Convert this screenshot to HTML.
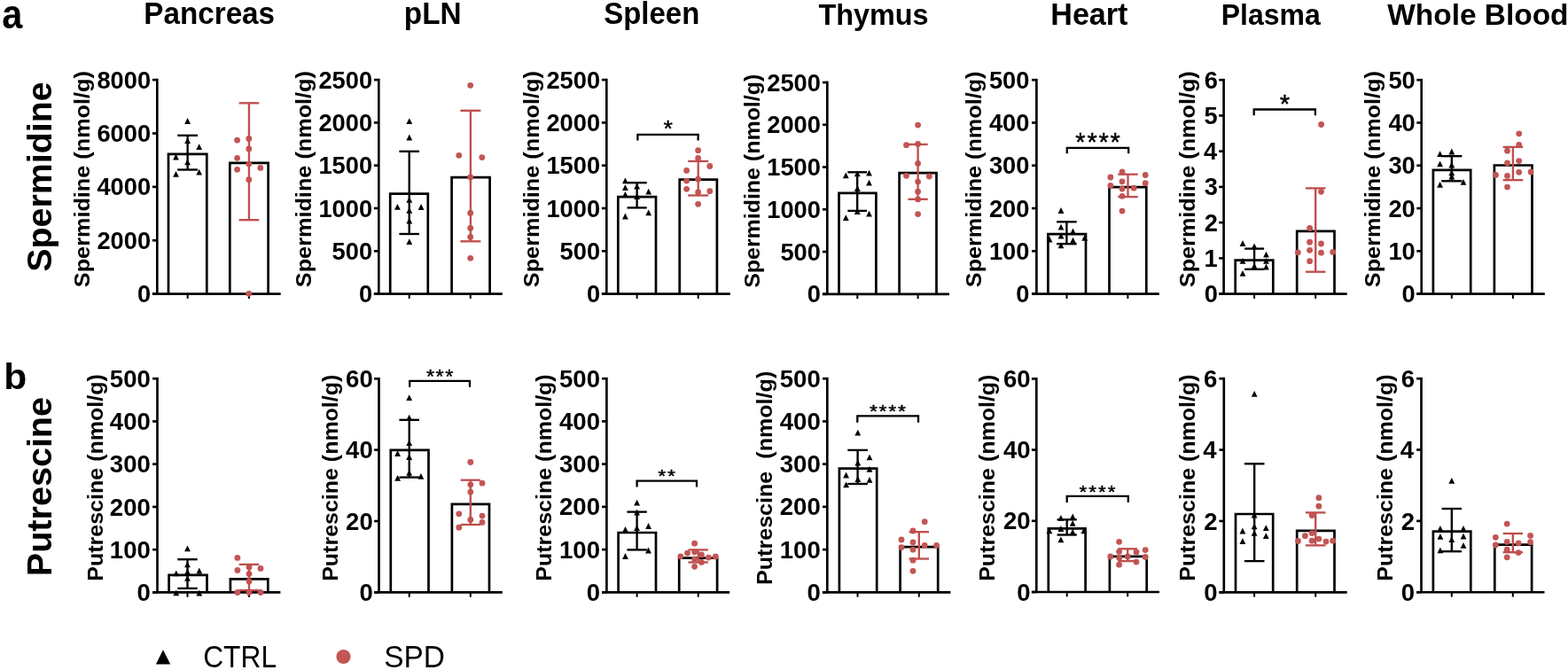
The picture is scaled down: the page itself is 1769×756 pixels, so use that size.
<!DOCTYPE html>
<html><head><meta charset="utf-8"><style>
html,body{margin:0;padding:0;background:#fff;}
svg{display:block;filter:blur(0.3px);}
text{font-family:"Liberation Sans",Arial,sans-serif;white-space:pre;}
</style></head><body>
<svg width="1769" height="756" viewBox="0 0 1769 756">
<rect width="1769" height="756" fill="#fff"/>
<text transform="translate(2.35,32.30) scale(0.9105,1)" font-size="45.58" font-weight="bold" fill="#000">a</text>
<text transform="translate(4.13,439.20) scale(1.0607,1)" font-size="40.14" font-weight="bold" fill="#000">b</text>
<text transform="translate(162.26,27.20) scale(0.9407,1)" font-size="35.35" font-weight="bold" fill="#000">Pancreas</text>
<text transform="translate(455.83,27.30) scale(0.9683,1)" font-size="34.47" font-weight="bold" fill="#000">pLN</text>
<text transform="translate(681.31,27.30) scale(0.9591,1)" font-size="34.34" font-weight="bold" fill="#000">Spleen</text>
<text transform="translate(923.38,27.60) scale(0.9514,1)" font-size="34.07" font-weight="bold" fill="#000">Thymus</text>
<text transform="translate(1185.30,27.60) scale(0.9688,1)" font-size="35.20" font-weight="bold" fill="#000">Heart</text>
<text transform="translate(1377.74,27.60) scale(0.9426,1)" font-size="33.93" font-weight="bold" fill="#000">Plasma</text>
<text transform="translate(1565.22,27.60) scale(0.9817,1)" font-size="34.07" font-weight="bold" fill="#000">Whole Blood</text>
<text transform="translate(57.80,306.78) rotate(-90) scale(1.0167,1)" font-size="38.76" font-weight="bold">Spermidine</text>
<text transform="translate(57.80,650.17) rotate(-90) scale(1.0317,1)" font-size="38.34" font-weight="bold">Putrescine</text>
<path d="M184 733.3L192.2 749.6L175.9 749.6Z" fill="#000"/>
<circle cx="387.5" cy="741" r="8.1" fill="#c25654"/>
<text transform="translate(229.21,752.60) scale(0.9071,1)" font-size="34.98" font-weight="normal" fill="#000">CTRL</text>
<text transform="translate(433.20,752.60) scale(0.9543,1)" font-size="34.98" font-weight="normal" fill="#000">SPD</text>
<line x1="171.90" y1="331.60" x2="177.30" y2="331.60" stroke="#000" stroke-width="2.65" stroke-linecap="butt"/>
<text transform="translate(154.95,341.12) scale(0.9850,1)" font-size="27.70" font-weight="bold">0</text>
<line x1="171.90" y1="271.23" x2="177.30" y2="271.23" stroke="#000" stroke-width="2.65" stroke-linecap="butt"/>
<text transform="translate(109.45,280.75) scale(0.9850,1)" font-size="27.70" font-weight="bold">2000</text>
<line x1="171.90" y1="210.85" x2="177.30" y2="210.85" stroke="#000" stroke-width="2.65" stroke-linecap="butt"/>
<text transform="translate(109.45,220.37) scale(0.9850,1)" font-size="27.70" font-weight="bold">4000</text>
<line x1="171.90" y1="150.47" x2="177.30" y2="150.47" stroke="#000" stroke-width="2.65" stroke-linecap="butt"/>
<text transform="translate(109.45,160.00) scale(0.9850,1)" font-size="27.70" font-weight="bold">6000</text>
<line x1="171.90" y1="90.10" x2="177.30" y2="90.10" stroke="#000" stroke-width="2.65" stroke-linecap="butt"/>
<text transform="translate(109.45,99.62) scale(0.9850,1)" font-size="27.70" font-weight="bold">8000</text>
<line x1="177.30" y1="88.77" x2="177.30" y2="331.60" stroke="#000" stroke-width="2.65" stroke-linecap="butt"/>
<line x1="171.90" y1="331.60" x2="316.70" y2="331.60" stroke="#000" stroke-width="2.65" stroke-linecap="butt"/>
<line x1="211.65" y1="331.60" x2="211.65" y2="336.93" stroke="#000" stroke-width="2.0" stroke-linecap="butt"/>
<line x1="280.95" y1="331.60" x2="280.95" y2="336.93" stroke="#000" stroke-width="2.0" stroke-linecap="butt"/>
<text transform="translate(100.69,324.16) rotate(-90) scale(1.0465,1)" font-size="24.13" font-weight="bold">Spermidine (nmol/g)</text>
<path d="M190.00 331.60V173.80H233.30V331.60" fill="none" stroke="#000" stroke-width="2.7" stroke-linejoin="miter"/>
<path d="M259.30 331.60V183.80H302.60V331.60" fill="none" stroke="#000" stroke-width="2.7" stroke-linejoin="miter"/>
<path d="M211.60 133.10L215.00 139.90L208.20 139.90Z" fill="#000"/>
<path d="M211.60 155.20L215.00 162.00L208.20 162.00Z" fill="#000"/>
<path d="M224.70 162.20L228.10 169.00L221.30 169.00Z" fill="#000"/>
<path d="M198.50 173.60L201.90 180.40L195.10 180.40Z" fill="#000"/>
<path d="M211.60 179.40L215.00 186.20L208.20 186.20Z" fill="#000"/>
<path d="M198.50 192.90L201.90 199.70L195.10 199.70Z" fill="#000"/>
<path d="M224.70 190.80L228.10 197.60L221.30 197.60Z" fill="#000"/>
<circle cx="280.80" cy="156.50" r="3.4" fill="#c25654"/>
<circle cx="267.60" cy="158.20" r="3.4" fill="#c25654"/>
<circle cx="280.80" cy="167.90" r="3.4" fill="#c25654"/>
<circle cx="267.60" cy="178.30" r="3.4" fill="#c25654"/>
<circle cx="280.80" cy="185.10" r="3.4" fill="#c25654"/>
<circle cx="293.80" cy="189.40" r="3.4" fill="#c25654"/>
<circle cx="267.60" cy="191.30" r="3.4" fill="#c25654"/>
<circle cx="280.80" cy="202.70" r="3.4" fill="#c25654"/>
<circle cx="280.80" cy="331.30" r="3.4" fill="#c25654"/>
<line x1="211.65" y1="152.80" x2="211.65" y2="191.50" stroke="#000" stroke-width="2.35" stroke-linecap="butt"/>
<line x1="200.25" y1="152.80" x2="223.05" y2="152.80" stroke="#000" stroke-width="2.35" stroke-linecap="butt"/>
<line x1="200.25" y1="191.50" x2="223.05" y2="191.50" stroke="#000" stroke-width="2.35" stroke-linecap="butt"/>
<line x1="280.95" y1="116.30" x2="280.95" y2="248.20" stroke="#bf4f4e" stroke-width="2.35" stroke-linecap="butt"/>
<line x1="269.65" y1="116.30" x2="292.25" y2="116.30" stroke="#bf4f4e" stroke-width="2.35" stroke-linecap="butt"/>
<line x1="269.65" y1="248.20" x2="292.25" y2="248.20" stroke="#bf4f4e" stroke-width="2.35" stroke-linecap="butt"/>
<line x1="421.90" y1="331.60" x2="427.30" y2="331.60" stroke="#000" stroke-width="2.65" stroke-linecap="butt"/>
<text transform="translate(404.95,341.12) scale(0.9850,1)" font-size="27.70" font-weight="bold">0</text>
<line x1="421.90" y1="283.30" x2="427.30" y2="283.30" stroke="#000" stroke-width="2.65" stroke-linecap="butt"/>
<text transform="translate(374.59,292.82) scale(0.9850,1)" font-size="27.70" font-weight="bold">500</text>
<line x1="421.90" y1="235.00" x2="427.30" y2="235.00" stroke="#000" stroke-width="2.65" stroke-linecap="butt"/>
<text transform="translate(359.45,244.52) scale(0.9850,1)" font-size="27.70" font-weight="bold">1000</text>
<line x1="421.90" y1="186.70" x2="427.30" y2="186.70" stroke="#000" stroke-width="2.65" stroke-linecap="butt"/>
<text transform="translate(359.45,196.22) scale(0.9850,1)" font-size="27.70" font-weight="bold">1500</text>
<line x1="421.90" y1="138.40" x2="427.30" y2="138.40" stroke="#000" stroke-width="2.65" stroke-linecap="butt"/>
<text transform="translate(359.45,147.92) scale(0.9850,1)" font-size="27.70" font-weight="bold">2000</text>
<line x1="421.90" y1="90.10" x2="427.30" y2="90.10" stroke="#000" stroke-width="2.65" stroke-linecap="butt"/>
<text transform="translate(359.45,99.62) scale(0.9850,1)" font-size="27.70" font-weight="bold">2500</text>
<line x1="427.30" y1="88.77" x2="427.30" y2="331.60" stroke="#000" stroke-width="2.65" stroke-linecap="butt"/>
<line x1="421.90" y1="331.60" x2="566.80" y2="331.60" stroke="#000" stroke-width="2.65" stroke-linecap="butt"/>
<line x1="461.70" y1="331.60" x2="461.70" y2="336.93" stroke="#000" stroke-width="2.0" stroke-linecap="butt"/>
<line x1="530.80" y1="331.60" x2="530.80" y2="336.93" stroke="#000" stroke-width="2.0" stroke-linecap="butt"/>
<text transform="translate(350.67,324.16) rotate(-90) scale(1.0419,1)" font-size="24.24" font-weight="bold">Spermidine (nmol/g)</text>
<path d="M440.20 331.60V218.70H482.80V331.60" fill="none" stroke="#000" stroke-width="2.7" stroke-linejoin="miter"/>
<path d="M509.60 331.60V200.20H552.60V331.60" fill="none" stroke="#000" stroke-width="2.7" stroke-linejoin="miter"/>
<path d="M461.80 133.20L465.20 140.00L458.40 140.00Z" fill="#000"/>
<path d="M461.80 151.60L465.20 158.40L458.40 158.40Z" fill="#000"/>
<path d="M461.80 221.90L465.20 228.70L458.40 228.70Z" fill="#000"/>
<path d="M448.40 229.90L451.80 236.70L445.00 236.70Z" fill="#000"/>
<path d="M475.10 230.10L478.50 236.90L471.70 236.90Z" fill="#000"/>
<path d="M461.80 234.00L465.20 240.80L458.40 240.80Z" fill="#000"/>
<path d="M461.80 245.60L465.20 252.40L458.40 252.40Z" fill="#000"/>
<path d="M461.80 269.20L465.20 276.00L458.40 276.00Z" fill="#000"/>
<circle cx="530.70" cy="96.30" r="3.4" fill="#c25654"/>
<circle cx="517.80" cy="175.30" r="3.4" fill="#c25654"/>
<circle cx="543.80" cy="177.60" r="3.4" fill="#c25654"/>
<circle cx="530.70" cy="199.90" r="3.4" fill="#c25654"/>
<circle cx="530.70" cy="240.50" r="3.4" fill="#c25654"/>
<circle cx="530.70" cy="257.40" r="3.4" fill="#c25654"/>
<circle cx="530.70" cy="267.40" r="3.4" fill="#c25654"/>
<circle cx="530.70" cy="291.30" r="3.4" fill="#c25654"/>
<line x1="461.70" y1="170.80" x2="461.70" y2="264.00" stroke="#000" stroke-width="2.35" stroke-linecap="butt"/>
<line x1="450.40" y1="170.80" x2="473.00" y2="170.80" stroke="#000" stroke-width="2.35" stroke-linecap="butt"/>
<line x1="450.40" y1="264.00" x2="473.00" y2="264.00" stroke="#000" stroke-width="2.35" stroke-linecap="butt"/>
<line x1="530.90" y1="124.80" x2="530.90" y2="272.30" stroke="#bf4f4e" stroke-width="2.35" stroke-linecap="butt"/>
<line x1="519.40" y1="124.80" x2="542.40" y2="124.80" stroke="#bf4f4e" stroke-width="2.35" stroke-linecap="butt"/>
<line x1="519.40" y1="272.30" x2="542.40" y2="272.30" stroke="#bf4f4e" stroke-width="2.35" stroke-linecap="butt"/>
<line x1="678.90" y1="331.60" x2="684.30" y2="331.60" stroke="#000" stroke-width="2.65" stroke-linecap="butt"/>
<text transform="translate(661.95,341.12) scale(0.9850,1)" font-size="27.70" font-weight="bold">0</text>
<line x1="678.90" y1="283.30" x2="684.30" y2="283.30" stroke="#000" stroke-width="2.65" stroke-linecap="butt"/>
<text transform="translate(631.59,292.82) scale(0.9850,1)" font-size="27.70" font-weight="bold">500</text>
<line x1="678.90" y1="235.00" x2="684.30" y2="235.00" stroke="#000" stroke-width="2.65" stroke-linecap="butt"/>
<text transform="translate(616.45,244.52) scale(0.9850,1)" font-size="27.70" font-weight="bold">1000</text>
<line x1="678.90" y1="186.70" x2="684.30" y2="186.70" stroke="#000" stroke-width="2.65" stroke-linecap="butt"/>
<text transform="translate(616.45,196.22) scale(0.9850,1)" font-size="27.70" font-weight="bold">1500</text>
<line x1="678.90" y1="138.40" x2="684.30" y2="138.40" stroke="#000" stroke-width="2.65" stroke-linecap="butt"/>
<text transform="translate(616.45,147.92) scale(0.9850,1)" font-size="27.70" font-weight="bold">2000</text>
<line x1="678.90" y1="90.10" x2="684.30" y2="90.10" stroke="#000" stroke-width="2.65" stroke-linecap="butt"/>
<text transform="translate(616.45,99.62) scale(0.9850,1)" font-size="27.70" font-weight="bold">2500</text>
<line x1="684.30" y1="88.77" x2="684.30" y2="331.60" stroke="#000" stroke-width="2.65" stroke-linecap="butt"/>
<line x1="678.90" y1="331.60" x2="823.80" y2="331.60" stroke="#000" stroke-width="2.65" stroke-linecap="butt"/>
<line x1="718.60" y1="331.60" x2="718.60" y2="336.93" stroke="#000" stroke-width="2.0" stroke-linecap="butt"/>
<line x1="787.70" y1="331.60" x2="787.70" y2="336.93" stroke="#000" stroke-width="2.0" stroke-linecap="butt"/>
<text transform="translate(607.69,324.16) rotate(-90) scale(1.0465,1)" font-size="24.13" font-weight="bold">Spermidine (nmol/g)</text>
<path d="M697.30 331.60V222.10H740.00V331.60" fill="none" stroke="#000" stroke-width="2.7" stroke-linejoin="miter"/>
<path d="M766.70 331.60V202.70H808.90V331.60" fill="none" stroke="#000" stroke-width="2.7" stroke-linejoin="miter"/>
<path d="M705.40 200.40L708.80 207.20L702.00 207.20Z" fill="#000"/>
<path d="M705.40 208.30L708.80 215.10L702.00 215.10Z" fill="#000"/>
<path d="M718.60 206.80L722.00 213.60L715.20 213.60Z" fill="#000"/>
<path d="M731.70 212.80L735.10 219.60L728.30 219.60Z" fill="#000"/>
<path d="M705.40 216.00L708.80 222.80L702.00 222.80Z" fill="#000"/>
<path d="M718.60 218.30L722.00 225.10L715.20 225.10Z" fill="#000"/>
<path d="M705.40 240.60L708.80 247.40L702.00 247.40Z" fill="#000"/>
<path d="M731.70 236.40L735.10 243.20L728.30 243.20Z" fill="#000"/>
<circle cx="787.60" cy="169.70" r="3.4" fill="#c25654"/>
<circle cx="787.60" cy="178.40" r="3.4" fill="#c25654"/>
<circle cx="800.80" cy="187.50" r="3.4" fill="#c25654"/>
<circle cx="774.60" cy="192.40" r="3.4" fill="#c25654"/>
<circle cx="774.60" cy="204.10" r="3.4" fill="#c25654"/>
<circle cx="787.60" cy="202.20" r="3.4" fill="#c25654"/>
<circle cx="774.60" cy="213.30" r="3.4" fill="#c25654"/>
<circle cx="800.80" cy="215.70" r="3.4" fill="#c25654"/>
<circle cx="787.60" cy="217.00" r="3.4" fill="#c25654"/>
<circle cx="787.60" cy="230.30" r="3.4" fill="#c25654"/>
<line x1="718.60" y1="206.20" x2="718.60" y2="234.40" stroke="#000" stroke-width="2.35" stroke-linecap="butt"/>
<line x1="707.50" y1="206.20" x2="729.70" y2="206.20" stroke="#000" stroke-width="2.35" stroke-linecap="butt"/>
<line x1="707.50" y1="234.40" x2="729.70" y2="234.40" stroke="#000" stroke-width="2.35" stroke-linecap="butt"/>
<line x1="787.70" y1="181.90" x2="787.70" y2="220.50" stroke="#bf4f4e" stroke-width="2.35" stroke-linecap="butt"/>
<line x1="776.20" y1="181.90" x2="799.20" y2="181.90" stroke="#bf4f4e" stroke-width="2.35" stroke-linecap="butt"/>
<line x1="776.20" y1="220.50" x2="799.20" y2="220.50" stroke="#bf4f4e" stroke-width="2.35" stroke-linecap="butt"/>
<path d="M719.40 158.60V151.90H787.60V158.60" fill="none" stroke="#000" stroke-width="2.3"/>
<text transform="translate(748.43,153.68) scale(1.0293,1)" font-size="26.00" font-weight="normal" fill="#000" stroke="#000" stroke-width="0.4" stroke-linejoin="round">*</text>
<line x1="927.90" y1="331.80" x2="933.30" y2="331.80" stroke="#000" stroke-width="2.65" stroke-linecap="butt"/>
<text transform="translate(910.75,341.32) scale(0.9850,1)" font-size="27.70" font-weight="bold">0</text>
<line x1="927.90" y1="284.04" x2="933.30" y2="284.04" stroke="#000" stroke-width="2.65" stroke-linecap="butt"/>
<text transform="translate(880.39,293.56) scale(0.9850,1)" font-size="27.70" font-weight="bold">500</text>
<line x1="927.90" y1="236.28" x2="933.30" y2="236.28" stroke="#000" stroke-width="2.65" stroke-linecap="butt"/>
<text transform="translate(865.25,245.80) scale(0.9850,1)" font-size="27.70" font-weight="bold">1000</text>
<line x1="927.90" y1="188.52" x2="933.30" y2="188.52" stroke="#000" stroke-width="2.65" stroke-linecap="butt"/>
<text transform="translate(865.25,198.04) scale(0.9850,1)" font-size="27.70" font-weight="bold">1500</text>
<line x1="927.90" y1="140.76" x2="933.30" y2="140.76" stroke="#000" stroke-width="2.65" stroke-linecap="butt"/>
<text transform="translate(865.25,150.28) scale(0.9850,1)" font-size="27.70" font-weight="bold">2000</text>
<line x1="927.90" y1="93.00" x2="933.30" y2="93.00" stroke="#000" stroke-width="2.65" stroke-linecap="butt"/>
<text transform="translate(865.25,102.52) scale(0.9850,1)" font-size="27.70" font-weight="bold">2500</text>
<line x1="933.30" y1="91.67" x2="933.30" y2="331.80" stroke="#000" stroke-width="2.65" stroke-linecap="butt"/>
<line x1="927.90" y1="331.80" x2="1071.00" y2="331.80" stroke="#000" stroke-width="2.65" stroke-linecap="butt"/>
<line x1="967.30" y1="331.80" x2="967.30" y2="337.12" stroke="#000" stroke-width="2.0" stroke-linecap="butt"/>
<line x1="1035.60" y1="331.80" x2="1035.60" y2="337.12" stroke="#000" stroke-width="2.0" stroke-linecap="butt"/>
<text transform="translate(856.99,324.85) rotate(-90) scale(1.0344,1)" font-size="24.13" font-weight="bold">Spermidine (nmol/g)</text>
<path d="M946.50 331.80V217.80H988.40V331.80" fill="none" stroke="#000" stroke-width="2.7" stroke-linejoin="miter"/>
<path d="M1014.60 331.80V195.10H1056.50V331.80" fill="none" stroke="#000" stroke-width="2.7" stroke-linejoin="miter"/>
<path d="M954.30 194.50L957.70 201.30L950.90 201.30Z" fill="#000"/>
<path d="M967.30 192.50L970.70 199.30L963.90 199.30Z" fill="#000"/>
<path d="M980.50 191.70L983.90 198.50L977.10 198.50Z" fill="#000"/>
<path d="M980.50 202.80L983.90 209.60L977.10 209.60Z" fill="#000"/>
<path d="M967.30 209.10L970.70 215.90L963.90 215.90Z" fill="#000"/>
<path d="M954.30 242.20L957.70 249.00L950.90 249.00Z" fill="#000"/>
<path d="M980.50 237.70L983.90 244.50L977.10 244.50Z" fill="#000"/>
<path d="M967.30 235.30L970.70 242.10L963.90 242.10Z" fill="#000"/>
<circle cx="1035.60" cy="141.10" r="3.4" fill="#c25654"/>
<circle cx="1022.50" cy="163.70" r="3.4" fill="#c25654"/>
<circle cx="1035.60" cy="162.50" r="3.4" fill="#c25654"/>
<circle cx="1035.60" cy="184.40" r="3.4" fill="#c25654"/>
<circle cx="1022.50" cy="198.30" r="3.4" fill="#c25654"/>
<circle cx="1048.40" cy="199.00" r="3.4" fill="#c25654"/>
<circle cx="1035.60" cy="205.10" r="3.4" fill="#c25654"/>
<circle cx="1035.60" cy="216.20" r="3.4" fill="#c25654"/>
<circle cx="1035.60" cy="224.90" r="3.4" fill="#c25654"/>
<circle cx="1035.60" cy="241.60" r="3.4" fill="#c25654"/>
<line x1="967.20" y1="194.30" x2="967.20" y2="237.90" stroke="#000" stroke-width="2.35" stroke-linecap="butt"/>
<line x1="956.30" y1="194.30" x2="978.10" y2="194.30" stroke="#000" stroke-width="2.35" stroke-linecap="butt"/>
<line x1="956.30" y1="237.90" x2="978.10" y2="237.90" stroke="#000" stroke-width="2.35" stroke-linecap="butt"/>
<line x1="1035.60" y1="162.90" x2="1035.60" y2="224.80" stroke="#bf4f4e" stroke-width="2.35" stroke-linecap="butt"/>
<line x1="1024.50" y1="162.90" x2="1046.70" y2="162.90" stroke="#bf4f4e" stroke-width="2.35" stroke-linecap="butt"/>
<line x1="1024.50" y1="224.80" x2="1046.70" y2="224.80" stroke="#bf4f4e" stroke-width="2.35" stroke-linecap="butt"/>
<line x1="1164.00" y1="331.60" x2="1169.40" y2="331.60" stroke="#000" stroke-width="2.65" stroke-linecap="butt"/>
<text transform="translate(1146.25,341.12) scale(0.9850,1)" font-size="27.70" font-weight="bold">0</text>
<line x1="1164.00" y1="283.32" x2="1169.40" y2="283.32" stroke="#000" stroke-width="2.65" stroke-linecap="butt"/>
<text transform="translate(1115.89,292.84) scale(0.9850,1)" font-size="27.70" font-weight="bold">100</text>
<line x1="1164.00" y1="235.04" x2="1169.40" y2="235.04" stroke="#000" stroke-width="2.65" stroke-linecap="butt"/>
<text transform="translate(1115.89,244.56) scale(0.9850,1)" font-size="27.70" font-weight="bold">200</text>
<line x1="1164.00" y1="186.76" x2="1169.40" y2="186.76" stroke="#000" stroke-width="2.65" stroke-linecap="butt"/>
<text transform="translate(1115.89,196.25) scale(0.9850,1)" font-size="27.70" font-weight="bold">300</text>
<line x1="1164.00" y1="138.48" x2="1169.40" y2="138.48" stroke="#000" stroke-width="2.65" stroke-linecap="butt"/>
<text transform="translate(1115.89,148.00) scale(0.9850,1)" font-size="27.70" font-weight="bold">400</text>
<line x1="1164.00" y1="90.20" x2="1169.40" y2="90.20" stroke="#000" stroke-width="2.65" stroke-linecap="butt"/>
<text transform="translate(1115.89,99.72) scale(0.9850,1)" font-size="27.70" font-weight="bold">500</text>
<line x1="1169.40" y1="88.88" x2="1169.40" y2="331.60" stroke="#000" stroke-width="2.65" stroke-linecap="butt"/>
<line x1="1164.00" y1="331.60" x2="1307.80" y2="331.60" stroke="#000" stroke-width="2.65" stroke-linecap="butt"/>
<line x1="1203.50" y1="331.60" x2="1203.50" y2="336.93" stroke="#000" stroke-width="2.0" stroke-linecap="butt"/>
<line x1="1272.40" y1="331.60" x2="1272.40" y2="336.93" stroke="#000" stroke-width="2.0" stroke-linecap="butt"/>
<text transform="translate(1107.40,324.16) rotate(-90) scale(1.0266,1)" font-size="24.56" font-weight="bold">Spermidine (nmol/g)</text>
<path d="M1182.40 331.60V264.20H1225.00V331.60" fill="none" stroke="#000" stroke-width="2.7" stroke-linejoin="miter"/>
<path d="M1251.50 331.60V211.10H1293.30V331.60" fill="none" stroke="#000" stroke-width="2.7" stroke-linejoin="miter"/>
<path d="M1197.00 234.10L1200.40 240.90L1193.60 240.90Z" fill="#000"/>
<path d="M1197.00 252.80L1200.40 259.60L1193.60 259.60Z" fill="#000"/>
<path d="M1210.50 257.60L1213.90 264.40L1207.10 264.40Z" fill="#000"/>
<path d="M1197.00 262.60L1200.40 269.40L1193.60 269.40Z" fill="#000"/>
<path d="M1184.00 266.60L1187.40 273.40L1180.60 273.40Z" fill="#000"/>
<path d="M1210.50 267.70L1213.90 274.50L1207.10 274.50Z" fill="#000"/>
<path d="M1223.70 265.00L1227.10 271.80L1220.30 271.80Z" fill="#000"/>
<path d="M1197.00 273.40L1200.40 280.20L1193.60 280.20Z" fill="#000"/>
<circle cx="1266.00" cy="194.00" r="3.4" fill="#c25654"/>
<circle cx="1252.90" cy="200.00" r="3.4" fill="#c25654"/>
<circle cx="1292.20" cy="197.50" r="3.4" fill="#c25654"/>
<circle cx="1266.00" cy="204.80" r="3.4" fill="#c25654"/>
<circle cx="1252.90" cy="209.40" r="3.4" fill="#c25654"/>
<circle cx="1292.20" cy="206.70" r="3.4" fill="#c25654"/>
<circle cx="1266.00" cy="213.00" r="3.4" fill="#c25654"/>
<circle cx="1279.20" cy="212.20" r="3.4" fill="#c25654"/>
<circle cx="1266.00" cy="221.30" r="3.4" fill="#c25654"/>
<circle cx="1266.00" cy="238.10" r="3.4" fill="#c25654"/>
<line x1="1203.40" y1="250.30" x2="1203.40" y2="275.20" stroke="#000" stroke-width="2.35" stroke-linecap="butt"/>
<line x1="1192.10" y1="250.30" x2="1214.70" y2="250.30" stroke="#000" stroke-width="2.35" stroke-linecap="butt"/>
<line x1="1192.10" y1="275.20" x2="1214.70" y2="275.20" stroke="#000" stroke-width="2.35" stroke-linecap="butt"/>
<line x1="1272.50" y1="196.70" x2="1272.50" y2="222.10" stroke="#bf4f4e" stroke-width="2.35" stroke-linecap="butt"/>
<line x1="1261.25" y1="196.70" x2="1283.75" y2="196.70" stroke="#bf4f4e" stroke-width="2.35" stroke-linecap="butt"/>
<line x1="1261.25" y1="222.10" x2="1283.75" y2="222.10" stroke="#bf4f4e" stroke-width="2.35" stroke-linecap="butt"/>
<path d="M1203.80 173.30V166.80H1273.20V173.30" fill="none" stroke="#000" stroke-width="2.3"/>
<text transform="translate(1213.29,170.24) scale(1.0155,1)" font-size="28.57" font-weight="normal" fill="#000" stroke="#000" stroke-width="0.4" stroke-linejoin="round">*</text>
<text transform="translate(1226.39,170.24) scale(1.0155,1)" font-size="28.57" font-weight="normal" fill="#000" stroke="#000" stroke-width="0.4" stroke-linejoin="round">*</text>
<text transform="translate(1239.49,170.24) scale(1.0155,1)" font-size="28.57" font-weight="normal" fill="#000" stroke="#000" stroke-width="0.4" stroke-linejoin="round">*</text>
<text transform="translate(1252.59,170.24) scale(1.0155,1)" font-size="28.57" font-weight="normal" fill="#000" stroke="#000" stroke-width="0.4" stroke-linejoin="round">*</text>
<line x1="1375.20" y1="331.60" x2="1380.60" y2="331.60" stroke="#000" stroke-width="2.65" stroke-linecap="butt"/>
<text transform="translate(1358.85,341.12) scale(0.9850,1)" font-size="27.70" font-weight="bold">0</text>
<line x1="1375.20" y1="291.37" x2="1380.60" y2="291.37" stroke="#000" stroke-width="2.65" stroke-linecap="butt"/>
<text transform="translate(1358.51,300.89) scale(0.9850,1)" font-size="27.70" font-weight="bold">1</text>
<line x1="1375.20" y1="251.13" x2="1380.60" y2="251.13" stroke="#000" stroke-width="2.65" stroke-linecap="butt"/>
<text transform="translate(1358.85,260.79) scale(0.9850,1)" font-size="27.70" font-weight="bold">2</text>
<line x1="1375.20" y1="210.90" x2="1380.60" y2="210.90" stroke="#000" stroke-width="2.65" stroke-linecap="butt"/>
<text transform="translate(1358.71,220.39) scale(0.9850,1)" font-size="27.70" font-weight="bold">3</text>
<line x1="1375.20" y1="170.67" x2="1380.60" y2="170.67" stroke="#000" stroke-width="2.65" stroke-linecap="butt"/>
<text transform="translate(1357.89,180.19) scale(0.9850,1)" font-size="27.70" font-weight="bold">4</text>
<line x1="1375.20" y1="130.43" x2="1380.60" y2="130.43" stroke="#000" stroke-width="2.65" stroke-linecap="butt"/>
<text transform="translate(1358.51,139.82) scale(0.9850,1)" font-size="27.70" font-weight="bold">5</text>
<line x1="1375.20" y1="90.20" x2="1380.60" y2="90.20" stroke="#000" stroke-width="2.65" stroke-linecap="butt"/>
<text transform="translate(1358.71,99.72) scale(0.9850,1)" font-size="27.70" font-weight="bold">6</text>
<line x1="1380.60" y1="88.88" x2="1380.60" y2="331.60" stroke="#000" stroke-width="2.65" stroke-linecap="butt"/>
<line x1="1375.20" y1="331.60" x2="1519.70" y2="331.60" stroke="#000" stroke-width="2.65" stroke-linecap="butt"/>
<line x1="1415.10" y1="331.60" x2="1415.10" y2="336.93" stroke="#000" stroke-width="2.0" stroke-linecap="butt"/>
<line x1="1484.20" y1="331.60" x2="1484.20" y2="336.93" stroke="#000" stroke-width="2.0" stroke-linecap="butt"/>
<text transform="translate(1348.18,324.16) rotate(-90) scale(1.0238,1)" font-size="24.66" font-weight="bold">Spermidine (nmol/g)</text>
<path d="M1393.70 331.60V293.70H1436.30V331.60" fill="none" stroke="#000" stroke-width="2.7" stroke-linejoin="miter"/>
<path d="M1463.20 331.60V260.90H1505.50V331.60" fill="none" stroke="#000" stroke-width="2.7" stroke-linejoin="miter"/>
<path d="M1402.00 271.10L1405.40 277.90L1398.60 277.90Z" fill="#000"/>
<path d="M1415.10 274.40L1418.50 281.20L1411.70 281.20Z" fill="#000"/>
<path d="M1428.50 283.80L1431.90 290.60L1425.10 290.60Z" fill="#000"/>
<path d="M1402.00 290.90L1405.40 297.70L1398.60 297.70Z" fill="#000"/>
<path d="M1428.50 290.90L1431.90 297.70L1425.10 297.70Z" fill="#000"/>
<path d="M1415.10 296.70L1418.50 303.50L1411.70 303.50Z" fill="#000"/>
<path d="M1428.50 297.60L1431.90 304.40L1425.10 304.40Z" fill="#000"/>
<path d="M1402.00 305.00L1405.40 311.80L1398.60 311.80Z" fill="#000"/>
<circle cx="1490.60" cy="140.50" r="3.4" fill="#c25654"/>
<circle cx="1490.50" cy="216.30" r="3.4" fill="#c25654"/>
<circle cx="1477.60" cy="257.50" r="3.4" fill="#c25654"/>
<circle cx="1477.60" cy="273.20" r="3.4" fill="#c25654"/>
<circle cx="1490.50" cy="275.00" r="3.4" fill="#c25654"/>
<circle cx="1464.30" cy="284.80" r="3.4" fill="#c25654"/>
<circle cx="1477.60" cy="282.30" r="3.4" fill="#c25654"/>
<circle cx="1490.50" cy="285.20" r="3.4" fill="#c25654"/>
<circle cx="1503.70" cy="284.40" r="3.4" fill="#c25654"/>
<circle cx="1477.60" cy="294.70" r="3.4" fill="#c25654"/>
<line x1="1415.10" y1="280.60" x2="1415.10" y2="303.80" stroke="#000" stroke-width="2.35" stroke-linecap="butt"/>
<line x1="1404.10" y1="280.60" x2="1426.10" y2="280.60" stroke="#000" stroke-width="2.35" stroke-linecap="butt"/>
<line x1="1404.10" y1="303.80" x2="1426.10" y2="303.80" stroke="#000" stroke-width="2.35" stroke-linecap="butt"/>
<line x1="1484.20" y1="212.40" x2="1484.20" y2="306.70" stroke="#bf4f4e" stroke-width="2.35" stroke-linecap="butt"/>
<line x1="1473.00" y1="212.40" x2="1495.40" y2="212.40" stroke="#bf4f4e" stroke-width="2.35" stroke-linecap="butt"/>
<line x1="1473.00" y1="306.70" x2="1495.40" y2="306.70" stroke="#bf4f4e" stroke-width="2.35" stroke-linecap="butt"/>
<path d="M1414.70 130.20V123.50H1483.90V130.20" fill="none" stroke="#000" stroke-width="2.3"/>
<text transform="translate(1443.69,126.94) scale(1.0254,1)" font-size="28.57" font-weight="normal" fill="#000" stroke="#000" stroke-width="0.4" stroke-linejoin="round">*</text>
<line x1="1598.30" y1="331.60" x2="1603.70" y2="331.60" stroke="#000" stroke-width="2.65" stroke-linecap="butt"/>
<text transform="translate(1581.55,341.12) scale(0.9850,1)" font-size="27.70" font-weight="bold">0</text>
<line x1="1598.30" y1="283.32" x2="1603.70" y2="283.32" stroke="#000" stroke-width="2.65" stroke-linecap="butt"/>
<text transform="translate(1566.41,292.84) scale(0.9850,1)" font-size="27.70" font-weight="bold">10</text>
<line x1="1598.30" y1="235.04" x2="1603.70" y2="235.04" stroke="#000" stroke-width="2.65" stroke-linecap="butt"/>
<text transform="translate(1566.41,244.56) scale(0.9850,1)" font-size="27.70" font-weight="bold">20</text>
<line x1="1598.30" y1="186.76" x2="1603.70" y2="186.76" stroke="#000" stroke-width="2.65" stroke-linecap="butt"/>
<text transform="translate(1566.41,196.25) scale(0.9850,1)" font-size="27.70" font-weight="bold">30</text>
<line x1="1598.30" y1="138.48" x2="1603.70" y2="138.48" stroke="#000" stroke-width="2.65" stroke-linecap="butt"/>
<text transform="translate(1566.41,148.00) scale(0.9850,1)" font-size="27.70" font-weight="bold">40</text>
<line x1="1598.30" y1="90.20" x2="1603.70" y2="90.20" stroke="#000" stroke-width="2.65" stroke-linecap="butt"/>
<text transform="translate(1566.41,99.72) scale(0.9850,1)" font-size="27.70" font-weight="bold">50</text>
<line x1="1603.70" y1="88.88" x2="1603.70" y2="331.60" stroke="#000" stroke-width="2.65" stroke-linecap="butt"/>
<line x1="1598.30" y1="331.60" x2="1742.80" y2="331.60" stroke="#000" stroke-width="2.65" stroke-linecap="butt"/>
<line x1="1637.80" y1="331.60" x2="1637.80" y2="336.93" stroke="#000" stroke-width="2.0" stroke-linecap="butt"/>
<line x1="1706.90" y1="331.60" x2="1706.90" y2="336.93" stroke="#000" stroke-width="2.0" stroke-linecap="butt"/>
<text transform="translate(1556.63,324.16) rotate(-90) scale(1.0328,1)" font-size="24.45" font-weight="bold">Spermidine (nmol/g)</text>
<path d="M1616.90 331.60V191.80H1659.20V331.60" fill="none" stroke="#000" stroke-width="2.7" stroke-linejoin="miter"/>
<path d="M1685.90 331.60V186.50H1728.50V331.60" fill="none" stroke="#000" stroke-width="2.7" stroke-linejoin="miter"/>
<path d="M1624.60 170.30L1628.00 177.10L1621.20 177.10Z" fill="#000"/>
<path d="M1637.80 167.60L1641.20 174.40L1634.40 174.40Z" fill="#000"/>
<path d="M1624.60 181.50L1628.00 188.30L1621.20 188.30Z" fill="#000"/>
<path d="M1637.80 182.60L1641.20 189.40L1634.40 189.40Z" fill="#000"/>
<path d="M1637.80 191.40L1641.20 198.20L1634.40 198.20Z" fill="#000"/>
<path d="M1624.60 204.90L1628.00 211.70L1621.20 211.70Z" fill="#000"/>
<path d="M1651.00 202.00L1654.40 208.80L1647.60 208.80Z" fill="#000"/>
<path d="M1637.80 195.60L1641.20 202.40L1634.40 202.40Z" fill="#000"/>
<circle cx="1713.70" cy="150.80" r="3.4" fill="#c25654"/>
<circle cx="1713.70" cy="163.50" r="3.4" fill="#c25654"/>
<circle cx="1700.50" cy="170.20" r="3.4" fill="#c25654"/>
<circle cx="1700.50" cy="184.00" r="3.4" fill="#c25654"/>
<circle cx="1713.70" cy="181.60" r="3.4" fill="#c25654"/>
<circle cx="1713.70" cy="194.30" r="3.4" fill="#c25654"/>
<circle cx="1687.50" cy="197.50" r="3.4" fill="#c25654"/>
<circle cx="1727.10" cy="194.00" r="3.4" fill="#c25654"/>
<circle cx="1700.50" cy="198.40" r="3.4" fill="#c25654"/>
<circle cx="1700.50" cy="211.10" r="3.4" fill="#c25654"/>
<line x1="1637.80" y1="176.20" x2="1637.80" y2="204.30" stroke="#000" stroke-width="2.35" stroke-linecap="butt"/>
<line x1="1626.20" y1="176.20" x2="1649.40" y2="176.20" stroke="#000" stroke-width="2.35" stroke-linecap="butt"/>
<line x1="1626.20" y1="204.30" x2="1649.40" y2="204.30" stroke="#000" stroke-width="2.35" stroke-linecap="butt"/>
<line x1="1706.90" y1="165.90" x2="1706.90" y2="203.20" stroke="#bf4f4e" stroke-width="2.35" stroke-linecap="butt"/>
<line x1="1695.60" y1="165.90" x2="1718.20" y2="165.90" stroke="#bf4f4e" stroke-width="2.35" stroke-linecap="butt"/>
<line x1="1695.60" y1="203.20" x2="1718.20" y2="203.20" stroke="#bf4f4e" stroke-width="2.35" stroke-linecap="butt"/>
<line x1="172.10" y1="668.40" x2="177.50" y2="668.40" stroke="#000" stroke-width="2.65" stroke-linecap="butt"/>
<text transform="translate(154.50,678.02) scale(0.9850,1)" font-size="28.00" font-weight="bold">0</text>
<line x1="172.10" y1="620.16" x2="177.50" y2="620.16" stroke="#000" stroke-width="2.65" stroke-linecap="butt"/>
<text transform="translate(123.81,629.78) scale(0.9850,1)" font-size="28.00" font-weight="bold">100</text>
<line x1="172.10" y1="571.92" x2="177.50" y2="571.92" stroke="#000" stroke-width="2.65" stroke-linecap="butt"/>
<text transform="translate(123.81,581.54) scale(0.9850,1)" font-size="28.00" font-weight="bold">200</text>
<line x1="172.10" y1="523.68" x2="177.50" y2="523.68" stroke="#000" stroke-width="2.65" stroke-linecap="butt"/>
<text transform="translate(123.81,533.27) scale(0.9850,1)" font-size="28.00" font-weight="bold">300</text>
<line x1="172.10" y1="475.44" x2="177.50" y2="475.44" stroke="#000" stroke-width="2.65" stroke-linecap="butt"/>
<text transform="translate(123.81,485.06) scale(0.9850,1)" font-size="28.00" font-weight="bold">400</text>
<line x1="172.10" y1="427.20" x2="177.50" y2="427.20" stroke="#000" stroke-width="2.65" stroke-linecap="butt"/>
<text transform="translate(123.81,436.82) scale(0.9850,1)" font-size="28.00" font-weight="bold">500</text>
<line x1="177.50" y1="425.88" x2="177.50" y2="668.40" stroke="#000" stroke-width="2.65" stroke-linecap="butt"/>
<line x1="172.10" y1="668.40" x2="316.40" y2="668.40" stroke="#000" stroke-width="2.65" stroke-linecap="butt"/>
<line x1="211.50" y1="668.40" x2="211.50" y2="673.73" stroke="#000" stroke-width="2.0" stroke-linecap="butt"/>
<line x1="281.00" y1="668.40" x2="281.00" y2="673.73" stroke="#000" stroke-width="2.0" stroke-linecap="butt"/>
<text transform="translate(115.69,655.79) rotate(-90) scale(1.0382,1)" font-size="24.13" font-weight="bold">Putrescine (nmol/g)</text>
<path d="M190.60 668.40V648.90H233.50V668.40" fill="none" stroke="#000" stroke-width="2.7" stroke-linejoin="miter"/>
<path d="M259.90 668.40V653.30H302.30V668.40" fill="none" stroke="#000" stroke-width="2.7" stroke-linejoin="miter"/>
<path d="M211.50 615.40L214.90 622.20L208.10 622.20Z" fill="#000"/>
<path d="M211.50 633.50L214.90 640.30L208.10 640.30Z" fill="#000"/>
<path d="M198.80 643.40L202.20 650.20L195.40 650.20Z" fill="#000"/>
<path d="M224.80 640.60L228.20 647.40L221.40 647.40Z" fill="#000"/>
<path d="M211.50 641.80L214.90 648.60L208.10 648.60Z" fill="#000"/>
<path d="M211.50 649.00L214.90 655.80L208.10 655.80Z" fill="#000"/>
<path d="M198.80 665.40L202.20 672.20L195.40 672.20Z" fill="#000"/>
<path d="M224.80 665.60L228.20 672.40L221.40 672.40Z" fill="#000"/>
<circle cx="267.90" cy="629.40" r="3.4" fill="#c25654"/>
<circle cx="267.90" cy="643.50" r="3.4" fill="#c25654"/>
<circle cx="281.00" cy="639.90" r="3.4" fill="#c25654"/>
<circle cx="294.00" cy="641.40" r="3.4" fill="#c25654"/>
<circle cx="281.00" cy="647.60" r="3.4" fill="#c25654"/>
<circle cx="281.00" cy="656.00" r="3.4" fill="#c25654"/>
<circle cx="267.90" cy="668.50" r="3.4" fill="#c25654"/>
<circle cx="281.00" cy="668.50" r="3.4" fill="#c25654"/>
<circle cx="294.00" cy="668.50" r="3.4" fill="#c25654"/>
<line x1="211.50" y1="631.20" x2="211.50" y2="663.90" stroke="#000" stroke-width="2.35" stroke-linecap="butt"/>
<line x1="200.30" y1="631.20" x2="222.70" y2="631.20" stroke="#000" stroke-width="2.35" stroke-linecap="butt"/>
<line x1="200.30" y1="663.90" x2="222.70" y2="663.90" stroke="#000" stroke-width="2.35" stroke-linecap="butt"/>
<line x1="281.00" y1="636.90" x2="281.00" y2="666.00" stroke="#bf4f4e" stroke-width="2.35" stroke-linecap="butt"/>
<line x1="269.70" y1="636.90" x2="292.30" y2="636.90" stroke="#bf4f4e" stroke-width="2.35" stroke-linecap="butt"/>
<line x1="269.70" y1="666.00" x2="292.30" y2="666.00" stroke="#bf4f4e" stroke-width="2.35" stroke-linecap="butt"/>
<line x1="422.10" y1="668.40" x2="427.50" y2="668.40" stroke="#000" stroke-width="2.65" stroke-linecap="butt"/>
<text transform="translate(405.40,678.02) scale(0.9850,1)" font-size="28.00" font-weight="bold">0</text>
<line x1="422.10" y1="588.03" x2="427.50" y2="588.03" stroke="#000" stroke-width="2.65" stroke-linecap="butt"/>
<text transform="translate(390.09,597.66) scale(0.9850,1)" font-size="28.00" font-weight="bold">20</text>
<line x1="422.10" y1="507.67" x2="427.50" y2="507.67" stroke="#000" stroke-width="2.65" stroke-linecap="butt"/>
<text transform="translate(390.09,517.29) scale(0.9850,1)" font-size="28.00" font-weight="bold">40</text>
<line x1="422.10" y1="427.30" x2="427.50" y2="427.30" stroke="#000" stroke-width="2.65" stroke-linecap="butt"/>
<text transform="translate(390.09,436.92) scale(0.9850,1)" font-size="28.00" font-weight="bold">60</text>
<line x1="427.50" y1="425.98" x2="427.50" y2="668.40" stroke="#000" stroke-width="2.65" stroke-linecap="butt"/>
<line x1="422.10" y1="668.40" x2="566.80" y2="668.40" stroke="#000" stroke-width="2.65" stroke-linecap="butt"/>
<line x1="461.70" y1="668.40" x2="461.70" y2="673.73" stroke="#000" stroke-width="2.0" stroke-linecap="butt"/>
<line x1="530.80" y1="668.40" x2="530.80" y2="673.73" stroke="#000" stroke-width="2.0" stroke-linecap="butt"/>
<text transform="translate(380.63,655.79) rotate(-90) scale(1.0219,1)" font-size="24.45" font-weight="bold">Putrescine (nmol/g)</text>
<path d="M440.80 668.40V507.80H483.50V668.40" fill="none" stroke="#000" stroke-width="2.7" stroke-linejoin="miter"/>
<path d="M509.90 668.40V568.80H552.00V668.40" fill="none" stroke="#000" stroke-width="2.7" stroke-linejoin="miter"/>
<path d="M461.70 445.20L465.10 452.00L458.30 452.00Z" fill="#000"/>
<path d="M461.70 467.70L465.10 474.50L458.30 474.50Z" fill="#000"/>
<path d="M461.70 496.30L465.10 503.10L458.30 503.10Z" fill="#000"/>
<path d="M448.60 508.10L452.00 514.90L445.20 514.90Z" fill="#000"/>
<path d="M461.70 512.10L465.10 518.90L458.30 518.90Z" fill="#000"/>
<path d="M461.70 529.90L465.10 536.70L458.30 536.70Z" fill="#000"/>
<path d="M448.60 536.00L452.00 542.80L445.20 542.80Z" fill="#000"/>
<path d="M474.90 533.90L478.30 540.70L471.50 540.70Z" fill="#000"/>
<circle cx="530.80" cy="521.50" r="3.4" fill="#c25654"/>
<circle cx="530.80" cy="546.80" r="3.4" fill="#c25654"/>
<circle cx="544.00" cy="545.20" r="3.4" fill="#c25654"/>
<circle cx="530.80" cy="555.10" r="3.4" fill="#c25654"/>
<circle cx="517.80" cy="579.80" r="3.4" fill="#c25654"/>
<circle cx="544.00" cy="582.10" r="3.4" fill="#c25654"/>
<circle cx="530.80" cy="586.50" r="3.4" fill="#c25654"/>
<circle cx="544.00" cy="589.40" r="3.4" fill="#c25654"/>
<circle cx="517.80" cy="595.20" r="3.4" fill="#c25654"/>
<line x1="461.70" y1="473.80" x2="461.70" y2="538.60" stroke="#000" stroke-width="2.35" stroke-linecap="butt"/>
<line x1="450.40" y1="473.80" x2="473.00" y2="473.80" stroke="#000" stroke-width="2.35" stroke-linecap="butt"/>
<line x1="450.40" y1="538.60" x2="473.00" y2="538.60" stroke="#000" stroke-width="2.35" stroke-linecap="butt"/>
<line x1="530.80" y1="541.70" x2="530.80" y2="592.00" stroke="#bf4f4e" stroke-width="2.35" stroke-linecap="butt"/>
<line x1="519.70" y1="541.70" x2="541.90" y2="541.70" stroke="#bf4f4e" stroke-width="2.35" stroke-linecap="butt"/>
<line x1="519.70" y1="592.00" x2="541.90" y2="592.00" stroke="#bf4f4e" stroke-width="2.35" stroke-linecap="butt"/>
<path d="M462.20 436.70V429.80H530.00V436.70" fill="none" stroke="#000" stroke-width="2.3"/>
<text transform="translate(480.89,431.53) scale(1.0897,1)" font-size="21.71" font-weight="normal" fill="#000" stroke="#000" stroke-width="0.4" stroke-linejoin="round">*</text>
<text transform="translate(491.59,431.53) scale(1.0897,1)" font-size="21.71" font-weight="normal" fill="#000" stroke="#000" stroke-width="0.4" stroke-linejoin="round">*</text>
<text transform="translate(502.29,431.53) scale(1.0897,1)" font-size="21.71" font-weight="normal" fill="#000" stroke="#000" stroke-width="0.4" stroke-linejoin="round">*</text>
<line x1="679.00" y1="668.30" x2="684.40" y2="668.30" stroke="#000" stroke-width="2.65" stroke-linecap="butt"/>
<text transform="translate(661.70,677.92) scale(0.9850,1)" font-size="28.00" font-weight="bold">0</text>
<line x1="679.00" y1="620.08" x2="684.40" y2="620.08" stroke="#000" stroke-width="2.65" stroke-linecap="butt"/>
<text transform="translate(631.01,629.70) scale(0.9850,1)" font-size="28.00" font-weight="bold">100</text>
<line x1="679.00" y1="571.86" x2="684.40" y2="571.86" stroke="#000" stroke-width="2.65" stroke-linecap="butt"/>
<text transform="translate(631.01,581.49) scale(0.9850,1)" font-size="28.00" font-weight="bold">200</text>
<line x1="679.00" y1="523.64" x2="684.40" y2="523.64" stroke="#000" stroke-width="2.65" stroke-linecap="butt"/>
<text transform="translate(631.01,533.23) scale(0.9850,1)" font-size="28.00" font-weight="bold">300</text>
<line x1="679.00" y1="475.42" x2="684.40" y2="475.42" stroke="#000" stroke-width="2.65" stroke-linecap="butt"/>
<text transform="translate(631.01,485.04) scale(0.9850,1)" font-size="28.00" font-weight="bold">400</text>
<line x1="679.00" y1="427.20" x2="684.40" y2="427.20" stroke="#000" stroke-width="2.65" stroke-linecap="butt"/>
<text transform="translate(631.01,436.82) scale(0.9850,1)" font-size="28.00" font-weight="bold">500</text>
<line x1="684.40" y1="425.88" x2="684.40" y2="668.30" stroke="#000" stroke-width="2.65" stroke-linecap="butt"/>
<line x1="679.00" y1="668.30" x2="823.20" y2="668.30" stroke="#000" stroke-width="2.65" stroke-linecap="butt"/>
<line x1="718.60" y1="668.30" x2="718.60" y2="673.62" stroke="#000" stroke-width="2.0" stroke-linecap="butt"/>
<line x1="787.70" y1="668.30" x2="787.70" y2="673.62" stroke="#000" stroke-width="2.0" stroke-linecap="butt"/>
<text transform="translate(621.97,655.79) rotate(-90) scale(1.0323,1)" font-size="24.24" font-weight="bold">Putrescine (nmol/g)</text>
<path d="M697.60 668.30V601.00H740.00V668.30" fill="none" stroke="#000" stroke-width="2.7" stroke-linejoin="miter"/>
<path d="M766.20 668.30V629.70H809.10V668.30" fill="none" stroke="#000" stroke-width="2.7" stroke-linejoin="miter"/>
<path d="M718.60 563.70L722.00 570.50L715.20 570.50Z" fill="#000"/>
<path d="M718.60 574.60L722.00 581.40L715.20 581.40Z" fill="#000"/>
<path d="M705.50 594.00L708.90 600.80L702.10 600.80Z" fill="#000"/>
<path d="M718.50 592.20L721.90 599.00L715.10 599.00Z" fill="#000"/>
<path d="M731.60 590.10L735.00 596.90L728.20 596.90Z" fill="#000"/>
<path d="M731.50 617.60L734.90 624.40L728.10 624.40Z" fill="#000"/>
<path d="M705.50 624.10L708.90 630.90L702.10 630.90Z" fill="#000"/>
<circle cx="783.60" cy="613.20" r="3.4" fill="#c25654"/>
<circle cx="775.50" cy="624.10" r="3.4" fill="#c25654"/>
<circle cx="783.60" cy="622.80" r="3.4" fill="#c25654"/>
<circle cx="791.40" cy="625.90" r="3.4" fill="#c25654"/>
<circle cx="767.80" cy="627.80" r="3.4" fill="#c25654"/>
<circle cx="799.30" cy="629.10" r="3.4" fill="#c25654"/>
<circle cx="807.30" cy="628.00" r="3.4" fill="#c25654"/>
<circle cx="783.60" cy="631.00" r="3.4" fill="#c25654"/>
<circle cx="791.40" cy="634.40" r="3.4" fill="#c25654"/>
<circle cx="783.60" cy="639.30" r="3.4" fill="#c25654"/>
<line x1="718.60" y1="577.60" x2="718.60" y2="620.40" stroke="#000" stroke-width="2.35" stroke-linecap="butt"/>
<line x1="707.40" y1="577.60" x2="729.80" y2="577.60" stroke="#000" stroke-width="2.35" stroke-linecap="butt"/>
<line x1="707.40" y1="620.40" x2="729.80" y2="620.40" stroke="#000" stroke-width="2.35" stroke-linecap="butt"/>
<line x1="787.70" y1="620.40" x2="787.70" y2="634.50" stroke="#bf4f4e" stroke-width="2.35" stroke-linecap="butt"/>
<line x1="776.50" y1="620.40" x2="798.90" y2="620.40" stroke="#bf4f4e" stroke-width="2.35" stroke-linecap="butt"/>
<line x1="776.50" y1="634.50" x2="798.90" y2="634.50" stroke="#bf4f4e" stroke-width="2.35" stroke-linecap="butt"/>
<path d="M718.60 549.40V542.70H786.00V549.40" fill="none" stroke="#000" stroke-width="2.3"/>
<text transform="translate(742.20,544.34) scale(1.0925,1)" font-size="21.14" font-weight="normal" fill="#000" stroke="#000" stroke-width="0.4" stroke-linejoin="round">*</text>
<text transform="translate(752.90,544.34) scale(1.0925,1)" font-size="21.14" font-weight="normal" fill="#000" stroke="#000" stroke-width="0.4" stroke-linejoin="round">*</text>
<line x1="927.90" y1="668.30" x2="933.30" y2="668.30" stroke="#000" stroke-width="2.65" stroke-linecap="butt"/>
<text transform="translate(910.40,677.92) scale(0.9850,1)" font-size="28.00" font-weight="bold">0</text>
<line x1="927.90" y1="620.08" x2="933.30" y2="620.08" stroke="#000" stroke-width="2.65" stroke-linecap="butt"/>
<text transform="translate(879.71,629.70) scale(0.9850,1)" font-size="28.00" font-weight="bold">100</text>
<line x1="927.90" y1="571.86" x2="933.30" y2="571.86" stroke="#000" stroke-width="2.65" stroke-linecap="butt"/>
<text transform="translate(879.71,581.49) scale(0.9850,1)" font-size="28.00" font-weight="bold">200</text>
<line x1="927.90" y1="523.64" x2="933.30" y2="523.64" stroke="#000" stroke-width="2.65" stroke-linecap="butt"/>
<text transform="translate(879.71,533.23) scale(0.9850,1)" font-size="28.00" font-weight="bold">300</text>
<line x1="927.90" y1="475.42" x2="933.30" y2="475.42" stroke="#000" stroke-width="2.65" stroke-linecap="butt"/>
<text transform="translate(879.71,485.04) scale(0.9850,1)" font-size="28.00" font-weight="bold">400</text>
<line x1="927.90" y1="427.20" x2="933.30" y2="427.20" stroke="#000" stroke-width="2.65" stroke-linecap="butt"/>
<text transform="translate(879.71,436.82) scale(0.9850,1)" font-size="28.00" font-weight="bold">500</text>
<line x1="933.30" y1="425.88" x2="933.30" y2="668.30" stroke="#000" stroke-width="2.65" stroke-linecap="butt"/>
<line x1="927.90" y1="668.30" x2="1072.40" y2="668.30" stroke="#000" stroke-width="2.65" stroke-linecap="butt"/>
<line x1="967.50" y1="668.30" x2="967.50" y2="673.62" stroke="#000" stroke-width="2.0" stroke-linecap="butt"/>
<line x1="1036.80" y1="668.30" x2="1036.80" y2="673.62" stroke="#000" stroke-width="2.0" stroke-linecap="butt"/>
<text transform="translate(871.13,660.00) rotate(-90) scale(1.0273,1)" font-size="24.45" font-weight="bold">Putrescine  (nmol/g)</text>
<path d="M946.90 668.30V528.60H989.20V668.30" fill="none" stroke="#000" stroke-width="2.7" stroke-linejoin="miter"/>
<path d="M1015.60 668.30V617.20H1058.20V668.30" fill="none" stroke="#000" stroke-width="2.7" stroke-linejoin="miter"/>
<path d="M967.80 484.70L971.20 491.50L964.40 491.50Z" fill="#000"/>
<path d="M981.00 512.50L984.40 519.30L977.60 519.30Z" fill="#000"/>
<path d="M967.80 518.80L971.20 525.60L964.40 525.60Z" fill="#000"/>
<path d="M981.00 526.00L984.40 532.80L977.60 532.80Z" fill="#000"/>
<path d="M954.60 532.60L958.00 539.40L951.20 539.40Z" fill="#000"/>
<path d="M967.80 537.10L971.20 543.90L964.40 543.90Z" fill="#000"/>
<path d="M981.00 537.90L984.40 544.70L977.60 544.70Z" fill="#000"/>
<path d="M954.60 543.40L958.00 550.20L951.20 550.20Z" fill="#000"/>
<circle cx="1043.20" cy="588.70" r="3.4" fill="#c25654"/>
<circle cx="1030.00" cy="599.00" r="3.4" fill="#c25654"/>
<circle cx="1017.00" cy="609.00" r="3.4" fill="#c25654"/>
<circle cx="1030.00" cy="611.90" r="3.4" fill="#c25654"/>
<circle cx="1043.20" cy="615.40" r="3.4" fill="#c25654"/>
<circle cx="1056.60" cy="615.40" r="3.4" fill="#c25654"/>
<circle cx="1017.00" cy="617.60" r="3.4" fill="#c25654"/>
<circle cx="1030.00" cy="620.20" r="3.4" fill="#c25654"/>
<circle cx="1030.00" cy="632.20" r="3.4" fill="#c25654"/>
<circle cx="1030.00" cy="644.30" r="3.4" fill="#c25654"/>
<line x1="967.60" y1="507.90" x2="967.60" y2="546.00" stroke="#000" stroke-width="2.35" stroke-linecap="butt"/>
<line x1="956.30" y1="507.90" x2="978.90" y2="507.90" stroke="#000" stroke-width="2.35" stroke-linecap="butt"/>
<line x1="956.30" y1="546.00" x2="978.90" y2="546.00" stroke="#000" stroke-width="2.35" stroke-linecap="butt"/>
<line x1="1036.80" y1="600.20" x2="1036.80" y2="630.50" stroke="#bf4f4e" stroke-width="2.35" stroke-linecap="butt"/>
<line x1="1025.60" y1="600.20" x2="1048.00" y2="600.20" stroke="#bf4f4e" stroke-width="2.35" stroke-linecap="butt"/>
<line x1="1025.60" y1="630.50" x2="1048.00" y2="630.50" stroke="#bf4f4e" stroke-width="2.35" stroke-linecap="butt"/>
<path d="M967.30 476.70V469.40H1036.00V476.70" fill="none" stroke="#000" stroke-width="2.3"/>
<text transform="translate(980.90,470.84) scale(1.0925,1)" font-size="21.14" font-weight="normal" fill="#000" stroke="#000" stroke-width="0.4" stroke-linejoin="round">*</text>
<text transform="translate(991.60,470.84) scale(1.0925,1)" font-size="21.14" font-weight="normal" fill="#000" stroke="#000" stroke-width="0.4" stroke-linejoin="round">*</text>
<text transform="translate(1002.30,470.84) scale(1.0925,1)" font-size="21.14" font-weight="normal" fill="#000" stroke="#000" stroke-width="0.4" stroke-linejoin="round">*</text>
<text transform="translate(1013.00,470.84) scale(1.0925,1)" font-size="21.14" font-weight="normal" fill="#000" stroke="#000" stroke-width="0.4" stroke-linejoin="round">*</text>
<line x1="1163.90" y1="668.00" x2="1169.30" y2="668.00" stroke="#000" stroke-width="2.65" stroke-linecap="butt"/>
<text transform="translate(1147.20,677.62) scale(0.9850,1)" font-size="28.00" font-weight="bold">0</text>
<line x1="1163.90" y1="587.80" x2="1169.30" y2="587.80" stroke="#000" stroke-width="2.65" stroke-linecap="butt"/>
<text transform="translate(1131.89,597.42) scale(0.9850,1)" font-size="28.00" font-weight="bold">20</text>
<line x1="1163.90" y1="507.60" x2="1169.30" y2="507.60" stroke="#000" stroke-width="2.65" stroke-linecap="butt"/>
<text transform="translate(1131.89,517.23) scale(0.9850,1)" font-size="28.00" font-weight="bold">40</text>
<line x1="1163.90" y1="427.40" x2="1169.30" y2="427.40" stroke="#000" stroke-width="2.65" stroke-linecap="butt"/>
<text transform="translate(1131.89,437.02) scale(0.9850,1)" font-size="28.00" font-weight="bold">60</text>
<line x1="1169.30" y1="426.07" x2="1169.30" y2="668.00" stroke="#000" stroke-width="2.65" stroke-linecap="butt"/>
<line x1="1163.90" y1="668.00" x2="1308.00" y2="668.00" stroke="#000" stroke-width="2.65" stroke-linecap="butt"/>
<line x1="1203.70" y1="668.00" x2="1203.70" y2="673.33" stroke="#000" stroke-width="2.0" stroke-linecap="butt"/>
<line x1="1272.20" y1="668.00" x2="1272.20" y2="673.33" stroke="#000" stroke-width="2.0" stroke-linecap="butt"/>
<text transform="translate(1122.17,655.79) rotate(-90) scale(1.0309,1)" font-size="24.24" font-weight="bold">Putrescine (nmol/g)</text>
<path d="M1182.80 668.00V596.30H1224.60V668.00" fill="none" stroke="#000" stroke-width="2.7" stroke-linejoin="miter"/>
<path d="M1251.90 668.00V627.80H1293.70V668.00" fill="none" stroke="#000" stroke-width="2.7" stroke-linejoin="miter"/>
<path d="M1196.90 581.00L1200.30 587.80L1193.50 587.80Z" fill="#000"/>
<path d="M1210.20 579.60L1213.60 586.40L1206.80 586.40Z" fill="#000"/>
<path d="M1210.20 587.00L1213.60 593.80L1206.80 593.80Z" fill="#000"/>
<path d="M1196.90 593.10L1200.30 599.90L1193.50 599.90Z" fill="#000"/>
<path d="M1183.90 595.50L1187.30 602.30L1180.50 602.30Z" fill="#000"/>
<path d="M1210.20 596.80L1213.60 603.60L1206.80 603.60Z" fill="#000"/>
<path d="M1222.80 595.50L1226.20 602.30L1219.40 602.30Z" fill="#000"/>
<path d="M1196.90 605.50L1200.30 612.30L1193.50 612.30Z" fill="#000"/>
<circle cx="1262.60" cy="611.30" r="3.4" fill="#c25654"/>
<circle cx="1262.60" cy="622.40" r="3.4" fill="#c25654"/>
<circle cx="1282.00" cy="623.00" r="3.4" fill="#c25654"/>
<circle cx="1292.20" cy="620.60" r="3.4" fill="#c25654"/>
<circle cx="1252.80" cy="628.00" r="3.4" fill="#c25654"/>
<circle cx="1262.60" cy="629.40" r="3.4" fill="#c25654"/>
<circle cx="1272.20" cy="628.00" r="3.4" fill="#c25654"/>
<circle cx="1292.20" cy="628.50" r="3.4" fill="#c25654"/>
<circle cx="1282.00" cy="634.10" r="3.4" fill="#c25654"/>
<circle cx="1262.60" cy="637.20" r="3.4" fill="#c25654"/>
<line x1="1203.70" y1="586.30" x2="1203.70" y2="603.50" stroke="#000" stroke-width="2.35" stroke-linecap="butt"/>
<line x1="1192.60" y1="586.30" x2="1214.80" y2="586.30" stroke="#000" stroke-width="2.35" stroke-linecap="butt"/>
<line x1="1192.60" y1="603.50" x2="1214.80" y2="603.50" stroke="#000" stroke-width="2.35" stroke-linecap="butt"/>
<line x1="1272.20" y1="619.30" x2="1272.20" y2="633.10" stroke="#bf4f4e" stroke-width="2.35" stroke-linecap="butt"/>
<line x1="1261.40" y1="619.30" x2="1283.00" y2="619.30" stroke="#bf4f4e" stroke-width="2.35" stroke-linecap="butt"/>
<line x1="1261.40" y1="633.10" x2="1283.00" y2="633.10" stroke="#bf4f4e" stroke-width="2.35" stroke-linecap="butt"/>
<path d="M1203.70 566.90V559.80H1272.80V566.90" fill="none" stroke="#000" stroke-width="2.3"/>
<text transform="translate(1217.61,561.74) scale(1.0659,1)" font-size="21.14" font-weight="normal" fill="#000" stroke="#000" stroke-width="0.4" stroke-linejoin="round">*</text>
<text transform="translate(1228.31,561.74) scale(1.0659,1)" font-size="21.14" font-weight="normal" fill="#000" stroke="#000" stroke-width="0.4" stroke-linejoin="round">*</text>
<text transform="translate(1239.01,561.74) scale(1.0659,1)" font-size="21.14" font-weight="normal" fill="#000" stroke="#000" stroke-width="0.4" stroke-linejoin="round">*</text>
<text transform="translate(1249.71,561.74) scale(1.0659,1)" font-size="21.14" font-weight="normal" fill="#000" stroke="#000" stroke-width="0.4" stroke-linejoin="round">*</text>
<line x1="1375.40" y1="668.30" x2="1380.80" y2="668.30" stroke="#000" stroke-width="2.65" stroke-linecap="butt"/>
<text transform="translate(1358.20,677.92) scale(0.9850,1)" font-size="28.00" font-weight="bold">0</text>
<line x1="1375.40" y1="587.93" x2="1380.80" y2="587.93" stroke="#000" stroke-width="2.65" stroke-linecap="butt"/>
<text transform="translate(1358.20,597.70) scale(0.9850,1)" font-size="28.00" font-weight="bold">2</text>
<line x1="1375.40" y1="507.57" x2="1380.80" y2="507.57" stroke="#000" stroke-width="2.65" stroke-linecap="butt"/>
<text transform="translate(1357.23,517.19) scale(0.9850,1)" font-size="28.00" font-weight="bold">4</text>
<line x1="1375.40" y1="427.20" x2="1380.80" y2="427.20" stroke="#000" stroke-width="2.65" stroke-linecap="butt"/>
<text transform="translate(1358.06,436.82) scale(0.9850,1)" font-size="28.00" font-weight="bold">6</text>
<line x1="1380.80" y1="425.88" x2="1380.80" y2="668.30" stroke="#000" stroke-width="2.65" stroke-linecap="butt"/>
<line x1="1375.40" y1="668.30" x2="1519.70" y2="668.30" stroke="#000" stroke-width="2.65" stroke-linecap="butt"/>
<line x1="1415.10" y1="668.30" x2="1415.10" y2="673.62" stroke="#000" stroke-width="2.0" stroke-linecap="butt"/>
<line x1="1484.20" y1="668.30" x2="1484.20" y2="673.62" stroke="#000" stroke-width="2.0" stroke-linecap="butt"/>
<text transform="translate(1348.29,655.79) rotate(-90) scale(1.0368,1)" font-size="24.13" font-weight="bold">Putrescine (nmol/g)</text>
<path d="M1394.00 668.30V580.00H1436.20V668.30" fill="none" stroke="#000" stroke-width="2.7" stroke-linejoin="miter"/>
<path d="M1463.20 668.30V598.90H1505.50V668.30" fill="none" stroke="#000" stroke-width="2.7" stroke-linejoin="miter"/>
<path d="M1415.20 440.90L1418.60 447.70L1411.80 447.70Z" fill="#000"/>
<path d="M1415.10 577.60L1418.50 584.40L1411.70 584.40Z" fill="#000"/>
<path d="M1401.90 595.60L1405.30 602.40L1398.50 602.40Z" fill="#000"/>
<path d="M1415.10 590.50L1418.50 597.30L1411.70 597.30Z" fill="#000"/>
<path d="M1428.30 592.20L1431.70 599.00L1424.90 599.00Z" fill="#000"/>
<path d="M1415.10 597.90L1418.50 604.70L1411.70 604.70Z" fill="#000"/>
<path d="M1428.30 601.30L1431.70 608.10L1424.90 608.10Z" fill="#000"/>
<path d="M1401.90 607.10L1405.30 613.90L1398.50 613.90Z" fill="#000"/>
<circle cx="1487.90" cy="561.70" r="3.4" fill="#c25654"/>
<circle cx="1487.90" cy="571.20" r="3.4" fill="#c25654"/>
<circle cx="1480.10" cy="581.50" r="3.4" fill="#c25654"/>
<circle cx="1480.10" cy="601.60" r="3.4" fill="#c25654"/>
<circle cx="1472.40" cy="604.70" r="3.4" fill="#c25654"/>
<circle cx="1487.90" cy="608.10" r="3.4" fill="#c25654"/>
<circle cx="1480.10" cy="610.20" r="3.4" fill="#c25654"/>
<circle cx="1464.50" cy="610.50" r="3.4" fill="#c25654"/>
<circle cx="1496.00" cy="611.10" r="3.4" fill="#c25654"/>
<circle cx="1503.70" cy="610.20" r="3.4" fill="#c25654"/>
<line x1="1415.20" y1="523.30" x2="1415.20" y2="633.10" stroke="#000" stroke-width="2.35" stroke-linecap="butt"/>
<line x1="1403.90" y1="523.30" x2="1426.50" y2="523.30" stroke="#000" stroke-width="2.35" stroke-linecap="butt"/>
<line x1="1403.90" y1="633.10" x2="1426.50" y2="633.10" stroke="#000" stroke-width="2.35" stroke-linecap="butt"/>
<line x1="1484.20" y1="578.40" x2="1484.20" y2="615.40" stroke="#bf4f4e" stroke-width="2.35" stroke-linecap="butt"/>
<line x1="1472.90" y1="578.40" x2="1495.50" y2="578.40" stroke="#bf4f4e" stroke-width="2.35" stroke-linecap="butt"/>
<line x1="1472.90" y1="615.40" x2="1495.50" y2="615.40" stroke="#bf4f4e" stroke-width="2.35" stroke-linecap="butt"/>
<line x1="1598.10" y1="668.20" x2="1603.50" y2="668.20" stroke="#000" stroke-width="2.65" stroke-linecap="butt"/>
<text transform="translate(1580.80,677.83) scale(0.9850,1)" font-size="28.00" font-weight="bold">0</text>
<line x1="1598.10" y1="587.87" x2="1603.50" y2="587.87" stroke="#000" stroke-width="2.65" stroke-linecap="butt"/>
<text transform="translate(1580.80,597.63) scale(0.9850,1)" font-size="28.00" font-weight="bold">2</text>
<line x1="1598.10" y1="507.53" x2="1603.50" y2="507.53" stroke="#000" stroke-width="2.65" stroke-linecap="butt"/>
<text transform="translate(1579.83,517.16) scale(0.9850,1)" font-size="28.00" font-weight="bold">4</text>
<line x1="1598.10" y1="427.20" x2="1603.50" y2="427.20" stroke="#000" stroke-width="2.65" stroke-linecap="butt"/>
<text transform="translate(1580.66,436.82) scale(0.9850,1)" font-size="28.00" font-weight="bold">6</text>
<line x1="1603.50" y1="425.88" x2="1603.50" y2="668.20" stroke="#000" stroke-width="2.65" stroke-linecap="butt"/>
<line x1="1598.10" y1="668.20" x2="1742.50" y2="668.20" stroke="#000" stroke-width="2.65" stroke-linecap="butt"/>
<line x1="1637.80" y1="668.20" x2="1637.80" y2="673.53" stroke="#000" stroke-width="2.0" stroke-linecap="butt"/>
<line x1="1706.80" y1="668.20" x2="1706.80" y2="673.53" stroke="#000" stroke-width="2.0" stroke-linecap="butt"/>
<text transform="translate(1571.45,655.79) rotate(-90) scale(1.0277,1)" font-size="24.34" font-weight="bold">Putrescine (nmol/g)</text>
<path d="M1616.90 668.20V599.70H1659.30V668.20" fill="none" stroke="#000" stroke-width="2.7" stroke-linejoin="miter"/>
<path d="M1686.30 668.20V614.60H1728.10V668.20" fill="none" stroke="#000" stroke-width="2.7" stroke-linejoin="miter"/>
<path d="M1637.80 538.90L1641.20 545.70L1634.40 545.70Z" fill="#000"/>
<path d="M1624.90 593.00L1628.30 599.80L1621.50 599.80Z" fill="#000"/>
<path d="M1651.00 593.00L1654.40 599.80L1647.60 599.80Z" fill="#000"/>
<path d="M1624.90 602.00L1628.30 608.80L1621.50 608.80Z" fill="#000"/>
<path d="M1651.00 601.60L1654.40 608.40L1647.60 608.40Z" fill="#000"/>
<path d="M1637.80 605.30L1641.20 612.10L1634.40 612.10Z" fill="#000"/>
<path d="M1651.00 611.90L1654.40 618.70L1647.60 618.70Z" fill="#000"/>
<path d="M1624.90 617.40L1628.30 624.20L1621.50 624.20Z" fill="#000"/>
<circle cx="1700.20" cy="591.10" r="3.4" fill="#c25654"/>
<circle cx="1687.30" cy="606.30" r="3.4" fill="#c25654"/>
<circle cx="1726.60" cy="604.40" r="3.4" fill="#c25654"/>
<circle cx="1700.20" cy="611.30" r="3.4" fill="#c25654"/>
<circle cx="1713.10" cy="612.90" r="3.4" fill="#c25654"/>
<circle cx="1687.30" cy="614.90" r="3.4" fill="#c25654"/>
<circle cx="1726.60" cy="611.70" r="3.4" fill="#c25654"/>
<circle cx="1700.20" cy="620.20" r="3.4" fill="#c25654"/>
<circle cx="1713.10" cy="623.60" r="3.4" fill="#c25654"/>
<circle cx="1700.20" cy="628.80" r="3.4" fill="#c25654"/>
<line x1="1637.80" y1="574.00" x2="1637.80" y2="622.20" stroke="#000" stroke-width="2.35" stroke-linecap="butt"/>
<line x1="1626.60" y1="574.00" x2="1649.00" y2="574.00" stroke="#000" stroke-width="2.35" stroke-linecap="butt"/>
<line x1="1626.60" y1="622.20" x2="1649.00" y2="622.20" stroke="#000" stroke-width="2.35" stroke-linecap="butt"/>
<line x1="1706.80" y1="602.00" x2="1706.80" y2="623.20" stroke="#bf4f4e" stroke-width="2.35" stroke-linecap="butt"/>
<line x1="1695.60" y1="602.00" x2="1718.00" y2="602.00" stroke="#bf4f4e" stroke-width="2.35" stroke-linecap="butt"/>
<line x1="1695.60" y1="623.20" x2="1718.00" y2="623.20" stroke="#bf4f4e" stroke-width="2.35" stroke-linecap="butt"/>
</svg>
</body></html>
